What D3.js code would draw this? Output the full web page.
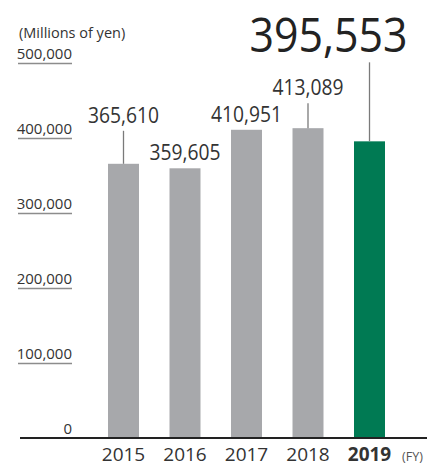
<!DOCTYPE html>
<html>
<head>
<meta charset="utf-8">
<script src="https://cdn.jsdelivr.net/npm/d3@7"></script>
<style>
  html, body { margin: 0; padding: 0; background: #fff; }
  svg { display: block; font-family: "Open Sans", "Noto Sans", sans-serif; }
</style>
</head>
<body>
<svg id="chart" width="427" height="466"></svg>
<script>
// Net sales by fiscal year (millions of yen)
const years = ["2015", "2016", "2017", "2018", "2019"];
const sales = [365610, 359605, 410951, 413089, 395553];
const tickValues = [0, 100000, 200000, 300000, 400000, 500000];
const unitLabel = "(Millions of yen)";
const periodLabel = "(FY)";

const W = 427, H = 466;
const baseY = 438, topY = 63;
const grey = "#a7a8ab", green = "#007a53", ink = "#333333";

const svg = d3.select("#chart");

const x = d3.scaleBand()
  .domain(years)
  .range([77.25, 415.75])
  .paddingInner(0.496)
  .paddingOuter(0.5);

const y = d3.scaleLinear()
  .domain([0, 500000])
  .range([baseY, topY]);

const fmt = d3.format(",");

// Y axis: labels sitting on short underline ticks
const yAxis = d3.axisLeft(y)
  .tickValues(tickValues)
  .tickFormat(fmt)
  .tickSize(54)
  .tickPadding(0);

svg.append("g")
  .attr("transform", "translate(72,0)")
  .call(yAxis)
  .call(g => g.select(".domain").remove())
  .call(g => g.selectAll(".tick line")
    .attr("stroke", "#8c8c8c")
    .attr("stroke-width", 1.5)
    .attr("opacity", d => d === 0 ? 0 : 1))
  .call(g => g.selectAll(".tick text")
    .attr("x", 0)
    .attr("dy", -4.5)
    .attr("text-anchor", "end")
    .attr("fill", ink)
    .attr("font-size", 15)
    .attr("font-family", "Open Sans"));

svg.append("text")
  .attr("x", 19).attr("y", 38)
  .attr("font-size", 14.5)
  .attr("fill", ink)
  .text(unitLabel);

// Bars
svg.append("g").selectAll("rect")
  .data(years.map((yr, i) => ({ yr, v: sales[i], last: i === years.length - 1 })))
  .join("rect")
  .attr("x", d => x(d.yr))
  .attr("y", d => y(d.v))
  .attr("width", x.bandwidth())
  .attr("height", d => baseY - y(d.v))
  .attr("fill", d => d.last ? green : grey);

// Baseline
svg.append("line")
  .attr("x1", 20).attr("x2", W)
  .attr("y1", baseY).attr("y2", baseY)
  .attr("stroke", "#222").attr("stroke-width", 2);

// Value labels: lift above bar top, leader line when lifted
const labelLayout = [
  { lift: 41, leader: true, size: 22, len: 71, dx: 0, anchor: "middle" },
  { lift: 8, leader: false, size: 22, len: 71, dx: 0, anchor: "middle" },
  { lift: 8, leader: false, size: 22, len: 71, dx: 0, anchor: "middle" },
  { lift: 33, leader: true, size: 22, len: 71, dx: 0, anchor: "middle" },
  { lift: 89, leader: true, size: 48, len: 158, dx: 38, anchor: "end" }
];

const labels = svg.append("g");
years.forEach((yr, i) => {
  const L = labelLayout[i];
  const cx = x(yr) + x.bandwidth() / 2;
  const top = y(sales[i]);
  const ty = top - L.lift;
  if (L.leader) {
    labels.append("line")
      .attr("x1", cx).attr("x2", cx)
      .attr("y1", ty + (L.size > 30 ? 10 : 8)).attr("y2", top)
      .attr("stroke", "#7a7a7a").attr("stroke-width", 1.3);
  }
  labels.append("text")
    .attr("x", cx + L.dx)
    .attr("y", ty)
    .attr("text-anchor", L.anchor)
    .attr("font-size", L.size)
    .attr("fill", L.size > 30 ? "#222" : ink)
    .attr("textLength", L.len)
    .attr("lengthAdjust", "spacingAndGlyphs")
    .text(fmt(sales[i]));
});

// X axis year labels
const xAxis = d3.axisBottom(x).tickSize(0).tickPadding(0);
svg.append("g")
  .attr("transform", `translate(0,${baseY})`)
  .call(xAxis)
  .call(g => g.select(".domain").remove())
  .call(g => g.selectAll(".tick text")
    .attr("y", 22.5)
    .attr("dy", 0)
    .attr("fill", ink)
    .attr("font-size", 19)
    .attr("font-family", "Open Sans")
    .attr("font-weight", d => d === years[years.length - 1] ? 700 : 400));

svg.append("text")
  .attr("x", 402).attr("y", 460.5)
  .attr("font-size", 12.5)
  .attr("fill", "#555")
  .text(periodLabel);
</script>
</body>
</html>
